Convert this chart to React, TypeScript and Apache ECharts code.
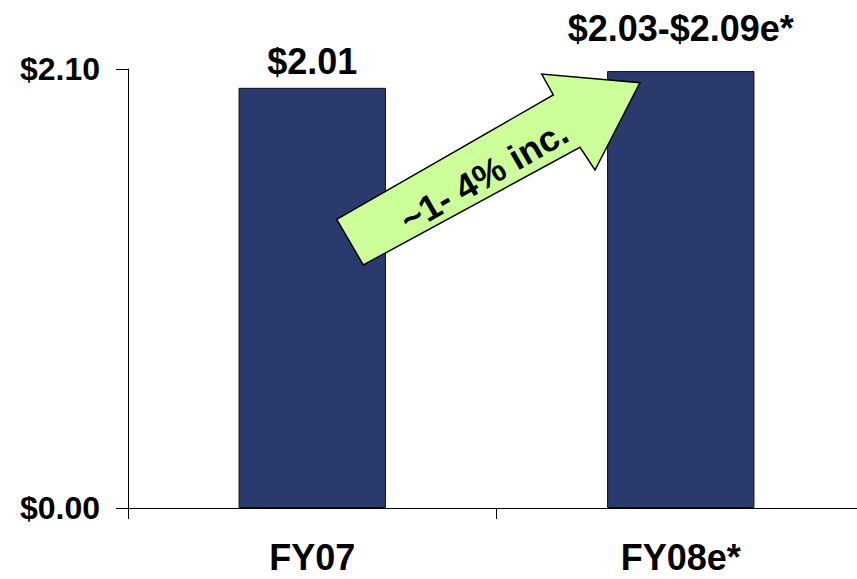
import React, { useEffect, useRef } from "react";
import * as echarts from "echarts";

const categories = ["FY07", "FY08e*"];
const values = [2.01, 2.09];
const valueLabels = ["$2.01", "$2.03-$2.09e*"];
const yTickLabels = ["$0.00", "$2.10"];
const yMax = 2.1;
const arrowText = "~1- 4% inc.";

const FONT = '"Liberation Sans", Arial, sans-serif';

export default function App() {
  const ref = useRef<HTMLDivElement>(null);
  useEffect(() => {
    if (!ref.current) return;
    const chart = echarts.init(ref.current, undefined, { renderer: "svg" });
    chart.setOption({
      animation: false,
      backgroundColor: "#ffffff",
      grid: { left: 128, right: 1, top: 69, bottom: 71, containLabel: false },
      xAxis: {
        type: "category",
        data: categories,
        boundaryGap: true,
        axisLine: { show: true, lineStyle: { color: "#000", width: 1 } },
        axisTick: { show: true, length: 11, lineStyle: { color: "#000" } },
        axisLabel: {
          color: "#000",
          fontFamily: FONT,
          fontWeight: "bold",
          fontSize: 36,
          lineHeight: 30,
          margin: 34,
        },
      },
      yAxis: {
        type: "value",
        min: 0,
        max: yMax,
        interval: yMax,
        splitLine: { show: false },
        axisLine: { show: true, lineStyle: { color: "#000", width: 1 } },
        axisTick: { show: true, length: 12, lineStyle: { color: "#000" } },
        axisLabel: {
          color: "#000",
          fontFamily: FONT,
          fontWeight: "bold",
          fontSize: 32,
          margin: 28,
          formatter: (v: number) => (v === 0 ? yTickLabels[0] : yTickLabels[1]),
        },
      },
      series: [
        {
          type: "bar",
          barWidth: "40%",
          data: values.map((v, i) => ({
            value: v,
            label: {
              show: true,
              position: "top",
              distance: 8,
              offset: i === 1 ? [0, -17] : [0, 0],
              formatter: () => valueLabels[i],
              color: "#000",
              fontFamily: FONT,
              fontWeight: "bold",
              fontSize: 36,
            },
          })),
          itemStyle: { color: "#2A3A6C", borderColor: "#111", borderWidth: 1 },
        },
      ],
      graphic: [
        {
          type: "polygon",
          z: 100,
          shape: {
            points: [
              [336.7, 219.3],
              [553.3, 95],
              [541.7, 74],
              [640, 82.7],
              [595, 170],
              [580, 147.3],
              [363.3, 265],
            ],
          },
          style: { fill: "#CCFF99", stroke: "#000", lineWidth: 1.5 },
        },
        {
          type: "text",
          z: 101,
          x: 484,
          y: 176,
          rotation: (30 * Math.PI) / 180,
          style: {
            text: arrowText,
            fill: "#000",
            fontFamily: FONT,
            fontWeight: "bold",
            fontSize: 36,
            align: "center",
            verticalAlign: "middle",
          },
        },
      ],
    });
    return () => chart.dispose();
  }, []);
  return (
    <div
      style={{
        position: "fixed",
        left: 0,
        top: 0,
        width: 857,
        height: 579,
        overflow: "hidden",
        background: "#fff",
      }}
    >
      <div ref={ref} style={{ width: 866, height: 579 }} />
    </div>
  );
}
